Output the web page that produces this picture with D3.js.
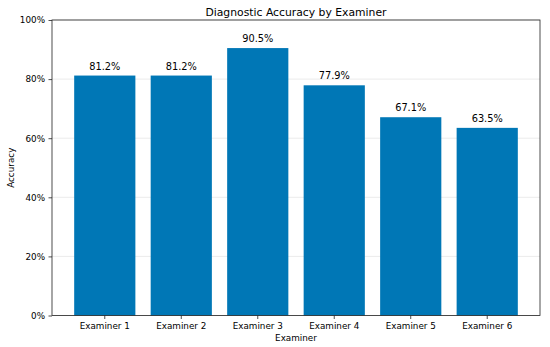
<!DOCTYPE html>
<html><head><meta charset="utf-8">
<script src="https://cdn.jsdelivr.net/npm/d3@7"></script>
<style>body{margin:0;background:#fff}svg{display:block}text{font-family:"DejaVu Sans",sans-serif;fill:#000}</style>
</head><body>
<svg id="c" width="550" height="347"></svg>
<script>
const categories = ["Examiner 1","Examiner 2","Examiner 3","Examiner 4","Examiner 5","Examiner 6"];
const accuracy = [81.2, 81.2, 90.5, 77.9, 67.1, 63.5];
const yTicks = [0, 20, 40, 60, 80, 100];

const svg = d3.select("#c");
const m = {l:52, r:540, t:20, b:315.5};
const x = d3.scaleBand().domain(categories).range([m.l, m.r]).paddingInner(0.2).paddingOuter(0.29);
const y = d3.scaleLinear().domain([0,100]).range([m.b, m.t]);

// grid
svg.append("g").selectAll("line").data(yTicks).join("line")
  .attr("x1", m.l).attr("x2", m.r).attr("y1", d=>y(d)).attr("y2", d=>y(d))
  .attr("stroke", "#e6e6e6").attr("stroke-width", 0.8);

// bars
svg.append("g").selectAll("rect").data(accuracy).join("rect")
  .attr("x", (d,i)=>x(categories[i])).attr("width", x.bandwidth())
  .attr("y", d=>y(d)).attr("height", d=>y(0)-y(d))
  .attr("fill", "#0077b6");

// value labels
svg.append("g").selectAll("text").data(accuracy).join("text")
  .attr("x", (d,i)=>x(categories[i]) + x.bandwidth()/2)
  .attr("y", d=>y(d) - 6)
  .attr("text-anchor", "middle").attr("font-size", "9.8px")
  .text(d=>d.toFixed(1) + "%");

// axes
const xa = svg.append("g").attr("transform", `translate(0,${m.b})`)
  .call(d3.axisBottom(x).tickSize(3.5).tickPadding(3.5));
const ya = svg.append("g").attr("transform", `translate(${m.l},0)`)
  .call(d3.axisLeft(y).tickValues(yTicks).tickFormat(d=>d+"%").tickSize(3.5).tickPadding(3.5));
[xa, ya].forEach(a=>{
  a.select(".domain").remove();
  a.selectAll("text").attr("font-size","8.8px").attr("font-family","DejaVu Sans").attr("fill","#000");
  a.selectAll("line").attr("stroke","#222").attr("stroke-width",0.8);
});

// frame
svg.append("rect").attr("x", m.l).attr("y", m.t).attr("width", m.r-m.l).attr("height", m.b-m.t)
  .attr("fill","none").attr("stroke","#222").attr("stroke-width",0.8);

// titles
svg.append("text").attr("x", (m.l+m.r)/2).attr("y", 16).attr("text-anchor","middle")
  .attr("font-size","10.8px").text("Diagnostic Accuracy by Examiner");
svg.append("text").attr("x", (m.l+m.r)/2).attr("y", 341).attr("text-anchor","middle")
  .attr("font-size","8.8px").text("Examiner");
svg.append("text").attr("transform", `translate(14,${(m.t+m.b)/2}) rotate(-90)`).attr("text-anchor","middle")
  .attr("font-size","8.8px").text("Accuracy");
</script>
</body></html>
